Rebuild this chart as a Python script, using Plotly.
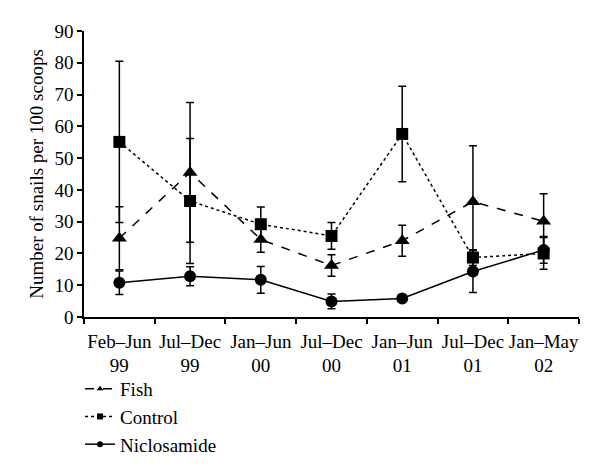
import plotly.graph_objects as go

categories = ["Feb–Jun<br>99", "Jul–Dec<br>99", "Jan–Jun<br>00", "Jul–Dec<br>00",
              "Jan–Jun<br>01", "Jul–Dec<br>01", "Jan–May<br>02"]
fish = [24.8, 45.5, 24.4, 16.2, 24.0, 36.3, 30.1]
fish_err = [9.9, 22.0, 4.0, 3.4, 4.9, 17.6, 8.7]
control = [55.1, 36.5, 29.2, 25.5, 57.6, 18.7, 20.0]
control_err = [25.4, 19.7, 5.4, 4.2, 15.0, 2.5, 5.0]
niclo = [10.8, 12.8, 11.7, 4.9, 5.8, 14.3, 21.1]
niclo_err = [3.7, 3.0, 4.2, 2.3, 0.4, 6.6, 4.2]

FONT = "Times New Roman, Liberation Serif, serif"
fig = go.Figure()

def add(name, y, err, dash, symbol, size):
    fig.add_trace(go.Scatter(
        x=categories, y=y, mode="lines+markers", name=name, showlegend=False,
        line=dict(color="black", width=1.5, dash=dash),
        marker=dict(symbol=symbol, size=size, color="black"),
        error_y=dict(type="data", array=err, visible=True, color="black",
                     thickness=1.5, width=4),
    ))

add("Fish", fish, fish_err, "dash", "triangle-up", 13)
add("Control", control, control_err, "dot", "square", 12)
add("Niclosamide", niclo, niclo_err, "solid", "circle", 12)

# legend entries (small symbols, as in the reference)
for name, dash, symbol in [("Fish", "dash", "triangle-up"),
                           ("Control", "dot", "square"),
                           ("Niclosamide", "solid", "circle")]:
    fig.add_trace(go.Scatter(
        x=[None], y=[None], mode="lines+markers", name=name,
        line=dict(color="black", width=1.5, dash=dash),
        marker=dict(symbol=symbol, size=6, color="black"),
    ))

fig.update_layout(
    width=600, height=473,
    margin=dict(l=76, r=29, t=23, b=164),
    paper_bgcolor="white", plot_bgcolor="white",
    font=dict(family=FONT, size=19, color="black"),
    legend=dict(x=-0.008, xanchor="left", y=-0.185, yanchor="top",
                font=dict(family=FONT, size=19), tracegroupgap=0,
                itemwidth=30, bgcolor="rgba(0,0,0,0)"),
    xaxis=dict(type="category", range=[-0.5, 6.5], showline=True,
               linecolor="black", linewidth=1.5, ticks="outside",
               tickson="boundaries", ticklen=5, tickcolor="black",
               tickwidth=1.5, showgrid=False, zeroline=False, tickangle=0,
               ticklabelstandoff=6, automargin=False,
               tickfont=dict(family=FONT, size=19)),
    yaxis=dict(range=[0, 90], dtick=10, showline=True, linecolor="black",
               linewidth=1.5, ticks="outside", ticklen=5, tickcolor="black",
               tickwidth=1.5, showgrid=False, zeroline=False, automargin=False,
               tickfont=dict(family=FONT, size=19),
               title=dict(text="Number of snails per 100 scoops",
                          font=dict(family=FONT, size=19), standoff=6)),
)

fig.write_html("out.html")
